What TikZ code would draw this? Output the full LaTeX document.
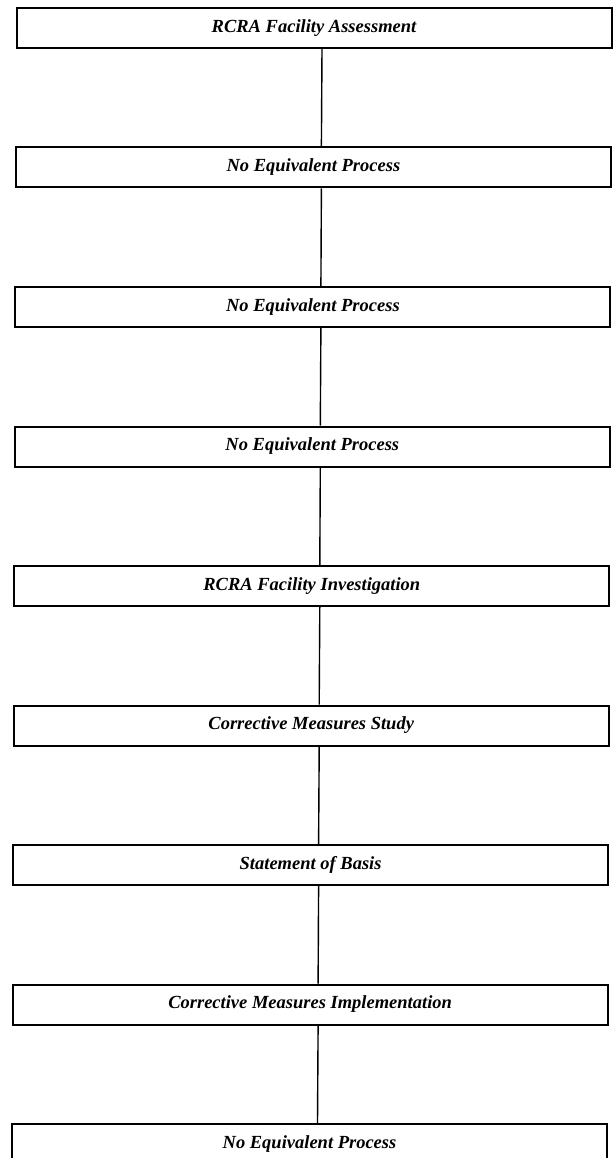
\documentclass[tikz,border=0pt]{standalone}
\usepackage{fontspec}
\setmainfont{Liberation Serif}
\usepackage{xcolor}

\tikzset{
  stagebox/.style={draw, line width=2pt, minimum width=595pt, minimum height=40pt,
    inner sep=0pt, font=\fontsize{18.5}{20}\selectfont\bfseries\itshape},
  link/.style={line width=1.4pt}
}

\begin{document}
\begin{tikzpicture}[x=1pt,y=-1pt]
  % Page frame (pixel grid of the reference)
  \useasboundingbox (0,0) rectangle (614,1158);

  % Stages (the scan drifts a little to the left going down)
  \node[stagebox] (rfa)  at (314.0,28)     {RCRA Facility Assessment};
  \node[stagebox] (ne1)  at (313.4,167.5)  {No Equivalent Process};
  \node[stagebox] (ne2)  at (312.9,307)    {No Equivalent Process};
  \node[stagebox] (ne3)  at (312.3,446.5)  {No Equivalent Process};
  \node[stagebox] (rfi)  at (311.8,586)    {RCRA Facility Investigation};
  \node[stagebox] (cms)  at (311.2,725.5)  {Corrective Measures Study};
  \node[stagebox] (sob)  at (310.6,865)    {Statement of Basis};
  \node[stagebox] (cmi)  at (310.1,1004.5) {Corrective Measures Implementation};
  \node[stagebox] (ne4)  at (309.5,1144)   {No Equivalent Process};

  % Connecting lines (slightly right of centre, as in the reference)
  \draw[link] ([xshift=8pt]rfa.south) -- ([xshift=8pt]ne1.north);
  \draw[link] ([xshift=8pt]ne1.south) -- ([xshift=8pt]ne2.north);
  \draw[link] ([xshift=8pt]ne2.south) -- ([xshift=8pt]ne3.north);
  \draw[link] ([xshift=8pt]ne3.south) -- ([xshift=8pt]rfi.north);
  \draw[link] ([xshift=8pt]rfi.south) -- ([xshift=8pt]cms.north);
  \draw[link] ([xshift=8pt]cms.south) -- ([xshift=8pt]sob.north);
  \draw[link] ([xshift=8pt]sob.south) -- ([xshift=8pt]cmi.north);
  \draw[link] ([xshift=8pt]cmi.south) -- ([xshift=8pt]ne4.north);
\end{tikzpicture}
\end{document}
